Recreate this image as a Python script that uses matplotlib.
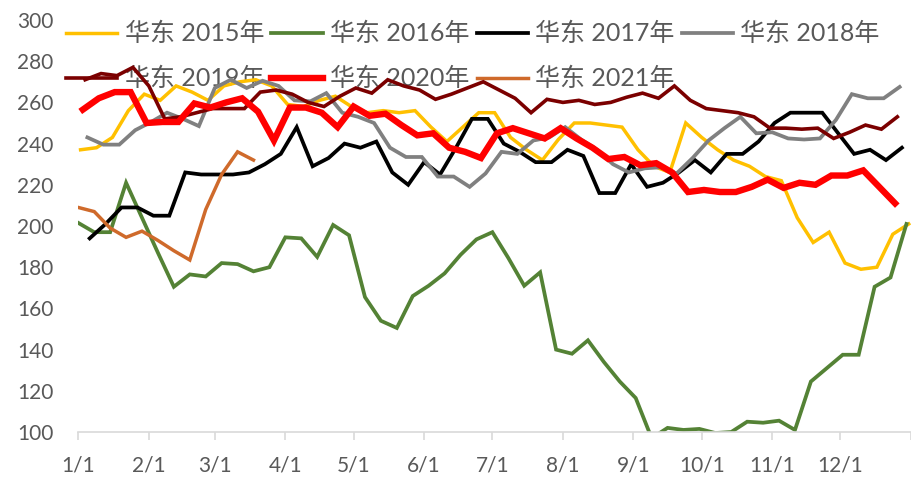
import matplotlib
matplotlib.use("Agg")
import matplotlib.pyplot as plt
import numpy as np

plt.rcParams["font.family"] = ["Lato", "Noto Sans CJK SC", "DejaVu Sans"]

# weekly prices, x = start day + 7 * week
y2015 = [237, 238, 243, 256, 264, 261, 268, 265, 261, 268, 270, 271, 268, 259, 258, 261, 263, 258,
         255, 256, 255, 256, 248, 241, 248, 255, 255, 243, 237, 232, 242, 250, 250, 249, 248, 237,
         229, 226, 250, 243, 237, 232, 229, 224, 222, 204, 192, 197, 182, 179, 180, 196, 201]
y2016 = [201.5, 197, 197, 221, 204, 187, 170.5, 176.5, 175.5, 182, 181.5, 178, 180, 194.5, 194, 185,
         200.5, 195.5, 165.5, 154, 150.5, 166, 171, 177, 186, 193.5, 197, 184.5, 171, 177.5, 140, 138,
         144.5, 134, 124.5, 116.5, 97, 102, 101, 101.5, 99.5, 100, 105, 104.5, 105.5, 101, 124.5, 131,
         137.5, 137.5, 170.5, 175, 201]
y2017 = [194, 201, 209, 209, 205, 205, 226, 225, 225, 225, 226, 230, 235, 248, 229, 233, 240, 238,
         241, 226, 220, 231, 225, 238, 252, 252, 240, 236, 231, 231, 237, 234, 216, 216, 230, 219,
         221, 226, 232, 226, 235, 235, 241, 250, 255, 255, 255, 245, 235, 237, 232, 238]
y2018 = [243, 239.5, 239.5, 246.5, 250.5, 255, 252, 248.5, 267, 271, 267, 270.5, 268, 261, 260.5,
         264.5, 255, 253, 250, 238, 233.5, 233.5, 224, 224, 219, 225.5, 236, 235, 241.5, 243, 248,
         242, 237, 230, 226, 228, 228.5, 225.5, 233, 241.5, 247.5, 253, 245, 245.5, 242.5, 242,
         242.5, 251.5, 264, 262, 262, 267.5]
y2019 = [271, 274, 273, 277, 268, 252, 253, 255, 257, 257, 257, 265, 266, 264, 260, 258, 263, 267,
         264.5, 271, 268, 266, 261.5, 264, 267, 270, 266, 262, 255, 261.5, 260, 261, 259, 260, 262.5,
         264.5, 262, 268, 261, 257, 256, 255, 253, 247.5, 247.5, 247, 247.5, 242.5, 245.5, 249, 247, 253]
y2020 = [256.5, 262, 265, 265, 250, 250.5, 250.5, 259.5, 257.5, 260, 262, 255.5, 241.5, 257.5, 257.5,
         255, 248, 258, 253.5, 254.5, 249, 244, 245, 238, 236, 233, 245, 247.5, 245, 242.5, 247.5,
         242.5, 238, 232.5, 233.5, 229.5, 230.5, 226, 216.5, 217.5, 216.5, 216.5, 219, 222.5, 218.5,
         221, 220, 224.5, 224.5, 227, 219, 211]
y2021 = [209, 207, 199, 194.5, 197.5, 193, 188, 183.5, 208, 225, 236, 232]

years = ["2015", "2016", "2017", "2018", "2019", "2020", "2021"]
start_days = [1, 0, 5, 4, 3, 2, 0]
colors = ["#FFC000", "#548235", "#000000", "#808080", "#7B0000", "#FF0000", "#CF6A2B"]
widths = [2.5, 2.7, 2.7, 2.7, 2.6, 4.6, 2.5]

month_days = [0, 31, 60, 91, 121, 152, 182, 213, 244, 274, 305, 335, 366]
month_labels = ["1/1", "2/1", "3/1", "4/1", "5/1", "6/1", "7/1", "8/1", "9/1", "10/1", "11/1", "12/1", ""]

fig = plt.figure(figsize=(9.12, 4.79), dpi=100)
ax = fig.add_axes([78.3 / 912, 47 / 479, (911 - 78.3) / 912, 412 / 479])

series = [y2015, y2016, y2017, y2018, y2019, y2020, y2021]
lines = {}
for yr, s, d0, c, lw in zip(years, series, start_days, colors, widths):
    x = d0 + 7 * np.arange(len(s))
    (ln,) = ax.plot(x, s, color=c, lw=lw, solid_joinstyle="miter", zorder=2)
    lines[yr] = ln

ax.set_xlim(0, 366)
ax.set_ylim(100, 300)
ax.set_yticks(np.arange(100, 301, 20))
ax.set_xticks(month_days)
ax.set_xticklabels(month_labels)

for sp in ["top", "right", "left"]:
    ax.spines[sp].set_visible(False)
ax.spines["bottom"].set_color("#D9D9D9")
ax.spines["bottom"].set_linewidth(1.2)
ax.tick_params(axis="y", length=0, pad=18, labelsize=15, labelcolor="#595959")
ax.tick_params(axis="x", length=6, width=1.2, color="#D9D9D9", pad=11, labelsize=15, labelcolor="#595959")

# column-major fill -> reorder so rows read 2015..2018 / 2019..2021
order = ["2015", "2019", "2016", "2020", "2017", "2021", "2018"]
leg = ax.legend([lines[k] for k in order], ["华东 " + k + "年" for k in order],
                ncol=4, loc="upper left", bbox_to_anchor=(66 / 912, 1 - 22 / 479),
                bbox_transform=fig.transFigure, frameon=False, fontsize=18,
                handlelength=2.05, handletextpad=0.3, columnspacing=0.28,
                labelspacing=0.87, borderpad=0, borderaxespad=0)
for t in leg.get_texts():
    t.set_color("#595959")
leg.set_zorder(1)

fig.savefig("out.png", dpi=100)
